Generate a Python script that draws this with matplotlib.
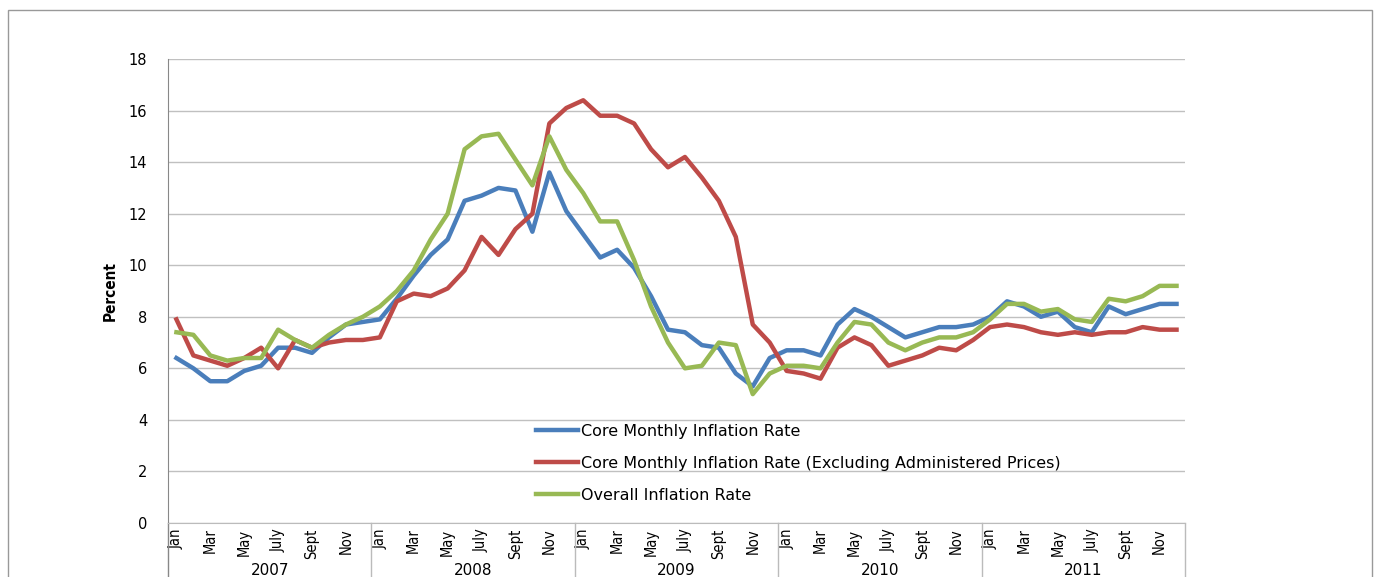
import matplotlib
matplotlib.use("Agg")
import matplotlib.pyplot as plt
import matplotlib.patches as patches
import numpy as np

years = ["2007", "2008", "2009", "2010", "2011"]
month_labels = ["Jan", "Mar", "May", "July", "Sept", "Nov"]

core = [6.4, 6.0, 5.5, 5.5, 5.9, 6.1, 6.8, 6.8, 6.6, 7.2, 7.7, 7.8,
        7.9, 8.7, 9.6, 10.4, 11.0, 12.5, 12.7, 13.0, 12.9, 11.3, 13.6, 12.1,
        11.2, 10.3, 10.6, 9.9, 8.8, 7.5, 7.4, 6.9, 6.8, 5.8, 5.3, 6.4,
        6.7, 6.7, 6.5, 7.7, 8.3, 8.0, 7.6, 7.2, 7.4, 7.6, 7.6, 7.7,
        8.0, 8.6, 8.4, 8.0, 8.2, 7.6, 7.4, 8.4, 8.1, 8.3, 8.5, 8.5]

core_ex_admin = [7.9, 6.5, 6.3, 6.1, 6.4, 6.8, 6.0, 7.1, 6.8, 7.0, 7.1, 7.1,
                 7.2, 8.6, 8.9, 8.8, 9.1, 9.8, 11.1, 10.4, 11.4, 12.0, 15.5, 16.1,
                 16.4, 15.8, 15.8, 15.5, 14.5, 13.8, 14.2, 13.4, 12.5, 11.1, 7.7, 7.0,
                 5.9, 5.8, 5.6, 6.8, 7.2, 6.9, 6.1, 6.3, 6.5, 6.8, 6.7, 7.1,
                 7.6, 7.7, 7.6, 7.4, 7.3, 7.4, 7.3, 7.4, 7.4, 7.6, 7.5, 7.5]

overall = [7.4, 7.3, 6.5, 6.3, 6.4, 6.4, 7.5, 7.1, 6.8, 7.3, 7.7, 8.0,
           8.4, 9.0, 9.8, 11.0, 12.0, 14.5, 15.0, 15.1, 14.1, 13.1, 15.0, 13.7,
           12.8, 11.7, 11.7, 10.2, 8.4, 7.0, 6.0, 6.1, 7.0, 6.9, 5.0, 5.8,
           6.1, 6.1, 6.0, 7.0, 7.8, 7.7, 7.0, 6.7, 7.0, 7.2, 7.2, 7.4,
           7.9, 8.5, 8.5, 8.2, 8.3, 7.9, 7.8, 8.7, 8.6, 8.8, 9.2, 9.2]

x = np.arange(len(core))
narrow = ["Liberation Sans Narrow", "DejaVu Sans"]

fig = plt.figure(figsize=(13.8, 5.77), dpi=100)
ax = fig.add_axes([0.1217, 0.0936, 0.737, 0.8041])

ax.plot(x, core, color="#4A7EBB", lw=3.2, label="Core Monthly Inflation Rate")
ax.plot(x, core_ex_admin, color="#BE4B48", lw=3.2,
        label="Core Monthly Inflation Rate (Excluding Administered Prices)")
ax.plot(x, overall, color="#98B954", lw=3.2, label="Overall Inflation Rate")

ax.set_xlim(-0.5, len(x) - 0.5)
ax.set_ylim(0, 18)
ax.set_yticks(np.arange(0, 19, 2))
ax.grid(axis="y", color="#C0C0C0", lw=1)
ax.set_axisbelow(True)
for s in ["top", "right"]:
    ax.spines[s].set_visible(False)
ax.spines["left"].set_color("#888888")
ax.spines["bottom"].set_color("#BBBBBB")
ax.tick_params(axis="y", length=0, pad=15, labelsize=10.5)
ax.set_ylabel("Percent", family=narrow, fontsize=11, fontweight="bold",
              fontstretch="condensed", labelpad=8)

# month ticks
pos = [12 * k + m for k in range(len(years)) for m in range(0, 12, 2)]
labs = month_labels * len(years)
ax.set_xticks(pos)
ax.set_xticklabels(labs, rotation=90, family=narrow, fontsize=10.5,
                   fontstretch="condensed", va="top")
ax.tick_params(axis="x", length=0, pad=4)

# year separators and labels
for k in range(len(years) + 1):
    xs = 12 * k - 0.5
    ax.plot([xs, xs], [0, -0.2], transform=ax.get_xaxis_transform(),
            color="#888888" if k == 0 else "#BBBBBB", lw=1, clip_on=False)
for k, yr in enumerate(years):
    ax.text(12 * k + 5.5, -0.103, yr, transform=ax.get_xaxis_transform(),
            ha="center", va="center", fontsize=11)

ax.legend(loc="upper left", bbox_to_anchor=(0.378, 0.29),
          bbox_transform=fig.transFigure, frameon=False, fontsize=11.5,
          handlelength=2.6, handletextpad=0.2, labelspacing=1.05)

fig.patches.append(patches.Rectangle((0.0058, -0.1), 0.9884, 1.0827,
                                     transform=fig.transFigure, fill=False,
                                     edgecolor="#999999", lw=1))

fig.savefig("out.png", dpi=100)
